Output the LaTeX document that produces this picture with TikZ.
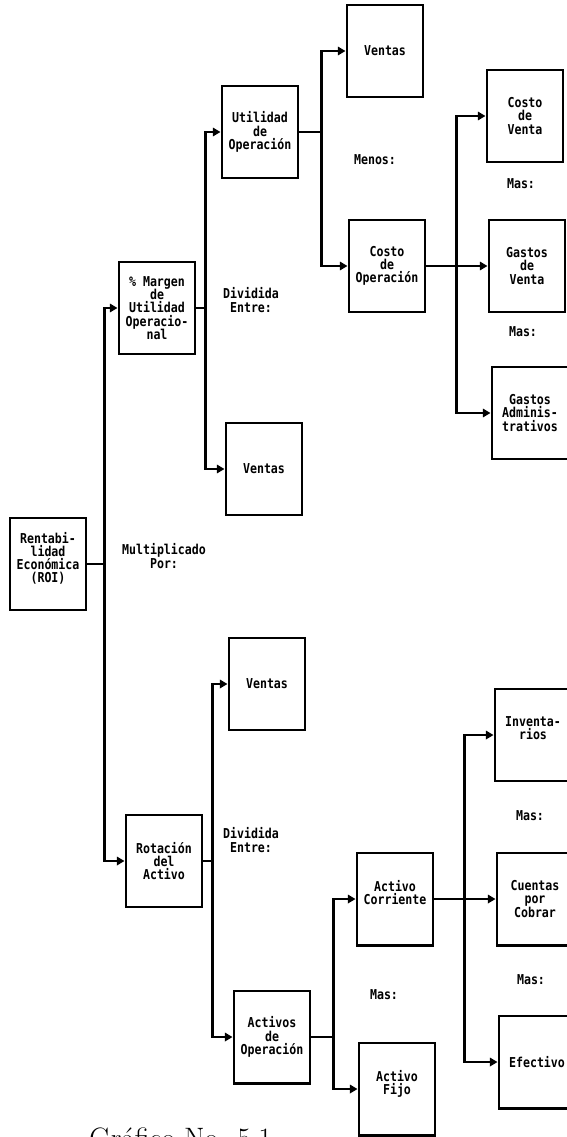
\documentclass[tikz,border=0pt]{standalone}
\usepackage{fontspec}
\setmonofont[FakeStretch=0.85]{DejaVu Sans Mono}
\usetikzlibrary{arrows.meta}

\begin{document}
\begin{tikzpicture}[
  x=0.025cm, y=-0.025cm,
  font=\ttfamily\bfseries\fontsize{9.7}{9.4}\selectfont,
  caja/.style={draw,minimum width=1.9cm,minimum height=2.3cm,inner sep=1pt,align=center},
  lbl/.style={align=center,inner sep=0pt},
  >={Triangle[length=1.9mm,width=2.1mm]}, line width=2.1pt]
  \useasboundingbox (0,0) rectangle (566,1137);
  % first level
  \node[caja] (roi) at (48,564) {Rentabi-\\lidad\\Económica\\(ROI)\\\mbox{}};
  \node[caja] (margen) at (157,308) {\% Margen\\de\\Utilidad\\Operacio-\\nal};
  \node[caja] (rotacion) at (164,861) {Rotación\\del\\Activo};
  % margen branch
  \node[caja] (utilop) at (260,132) {Utilidad\\de\\Operación};
  \node[caja] (ventasM) at (264,469) {Ventas};
  \node[caja] (ventasU) at (385,51) {Ventas};
  \node[caja] (costoop) at (387,266) {Costo\\de\\Operación};
  \node[caja] (costoven) at (525,116) {Costo\\de\\Venta};
  \node[caja] (gastoven) at (527,266) {Gastos\\de\\Venta};
  \node[caja] (gastoadm) at (530,413) {Gastos\\Adminis-\\trativos};
  % rotacion branch
  \node[caja] (ventasR) at (267,684) {Ventas};
  \node[caja] (activop) at (272,1037) {Activos\\de\\Operación};
  \node[caja] (acorr) at (395,899) {Activo\\Corriente\\\mbox{}};
  \node[caja] (afijo) at (397,1089) {Activo\\Fijo\\\mbox{}};
  \node[caja] (invent) at (533,735) {Inventa-\\rios\\\mbox{}};
  \node[caja] (cxc) at (535,899) {Cuentas\\por\\Cobrar};
  \node[caja] (efect) at (537,1062) {Efectivo};
  % operators
  \node[lbl] (multpor) at (164,556) {Multiplicado\\Por:};
  \node[lbl] (divA) at (251,300) {Dividida\\Entre:};
  \node[lbl] (divB) at (251,840) {Dividida\\Entre:};
  \node[lbl] (menos) at (375,160) {Menos:};
  \node[lbl] (masA) at (521,184) {Mas:};
  \node[lbl] (masB) at (523,332) {Mas:};
  \node[lbl] (masC) at (384,995) {Mas:};
  \node[lbl] (masD) at (530,816) {Mas:};
  \node[lbl] (masE) at (531,980) {Mas:};
  % connectors
  \foreach \c in {margen,rotacion} \draw[->] (roi.east) -- ++(17,0) |- (\c.west);
  \foreach \c in {utilop,ventasM} \draw[->] (margen.east) -- ++(9,0) |- (\c.west);
  \foreach \c in {ventasU,costoop} \draw[->] (utilop.east) -- ++(22,0) |- (\c.west);
  \foreach \c in {costoven,gastoven,gastoadm} \draw[->] (costoop.east) -- ++(30,0) |- (\c.west);
  \foreach \c in {ventasR,activop} \draw[->] (rotacion.east) -- ++(9,0) |- (\c.west);
  \foreach \c in {acorr,afijo} \draw[->] (activop.east) -- ++(22,0) |- (\c.west);
  \foreach \c in {invent,cxc,efect} \draw[->] (acorr.east) -- ++(30,0) |- (\c.west);
  % caption, cut by the page edge
  \node[font=\rmfamily\mdseries\fontsize{21}{24}\selectfont,anchor=base west,inner sep=0pt] (titulo)
    at (88,1148) {Gráfico No. 5.1};
\end{tikzpicture}
\end{document}
